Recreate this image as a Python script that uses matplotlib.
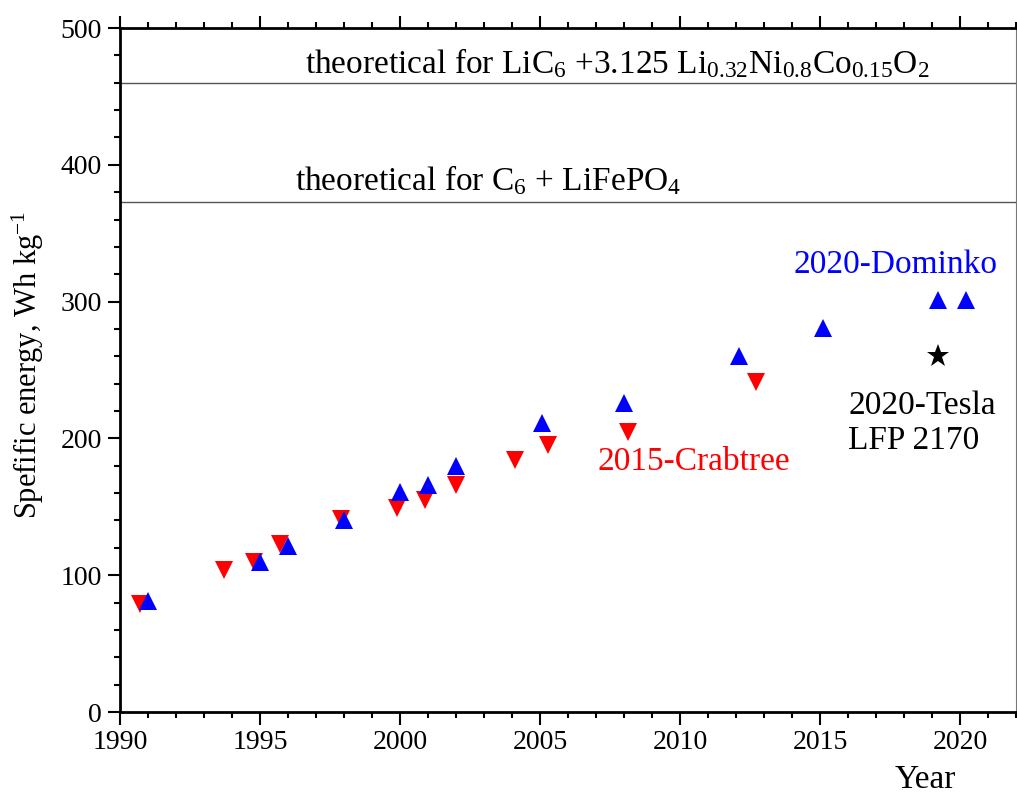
import matplotlib
matplotlib.use('Agg')
import matplotlib.pyplot as plt
from matplotlib.ticker import MultipleLocator

plt.rcParams['font.family'] = ['Liberation Serif', 'DejaVu Serif']
plt.rcParams['mathtext.fontset'] = 'custom'
plt.rcParams['mathtext.rm'] = 'Liberation Serif'
plt.rcParams['mathtext.it'] = 'Liberation Serif:italic'

# Crabtree 2015 (red, down triangles)
crab_year = [1990.7, 1993.7, 1994.8, 1995.7, 1997.9, 1999.9, 2000.9, 2002.0,
             2004.1, 2005.3, 2008.15, 2012.7]
crab_wh = [79, 104, 110, 123, 141, 149, 155, 166, 184, 195, 205, 241]

# Dominko 2020 (blue, up triangles)
dom_year = [1991.0, 1995.0, 1996.0, 1998.0, 2000.0, 2001.0, 2002.0, 2005.06,
            2008.0, 2012.1, 2015.1, 2019.2, 2020.2]
dom_wh = [81, 110, 121, 140, 161, 166, 180, 211, 226, 260, 281, 301, 301]

# Tesla point
tesla_year = [2019.2]
tesla_wh = [260]

# theoretical limits
nca_limit = 460
lfp_limit = 373

fig = plt.figure(figsize=(10.17, 7.94), dpi=100)
ax = fig.add_axes([120 / 1017, 82 / 794, 896 / 1017, 684 / 794])

ax.axhline(nca_limit, color='#555555', lw=1.0, zorder=1)
ax.axhline(lfp_limit, color='#555555', lw=1.0, zorder=1)

ax.plot(crab_year, crab_wh, 'v', color='#ff0000', ms=12.5, mew=0, zorder=3)
ax.plot(dom_year, dom_wh, '^', color='#0000ff', ms=12.5, mew=0, zorder=4)
ax.plot(tesla_year, tesla_wh, '*', color='black', ms=17, mew=0, zorder=4)

ax.text(1996.6, 467, r'theoretical for LiC$_6$ +3.125 Li$_{0.32}$Ni$_{0.8}$Co$_{0.15}$O$_2$',
        fontsize=24, ha='left', va='baseline')
ax.text(1996.25, 381.5, r'theoretical for C$_6$ + LiFePO$_4$',
        fontsize=24, ha='left', va='baseline')

ax.text(2014.04, 327, '2020-Dominko', color='#0000ff', fontsize=24, ha='left', va='center')
ax.text(2007.07, 183, '2015-Crabtree', color='#ff0000', fontsize=24, ha='left', va='center')
ax.text(2016.0, 211, '2020-Tesla\nLFP 2170', color='black', fontsize=24, ha='left',
        va='center', linespacing=1.2)

ax.set_xlim(1990, 2022)
ax.set_ylim(0, 500)
ax.xaxis.set_major_locator(MultipleLocator(5))
ax.xaxis.set_minor_locator(MultipleLocator(1))
ax.yaxis.set_major_locator(MultipleLocator(100))
ax.yaxis.set_minor_locator(MultipleLocator(20))

ax.tick_params(which='both', direction='out', top=True, right=False, width=1.5,
               labelsize=20, colors='black')
ax.tick_params(which='major', length=9, pad=4)
ax.tick_params(which='minor', length=4)
ax.tick_params(labeltop=False)

ax.spines['left'].set_linewidth(2)
ax.spines['bottom'].set_linewidth(2)
ax.spines['top'].set_linewidth(2)
ax.spines['right'].set_linewidth(0.8)
ax.spines['right'].set_color('#777777')

fig.text(28 / 1017, 1 - 365 / 794, 'Spefific energy, Wh kg$^{-1}$', rotation=90,
         fontsize=22, ha='center', va='center')
fig.text(925 / 1017, 1 - 780 / 794, 'Year', fontsize=24, ha='center', va='center')

fig.savefig('out.png', dpi=100)
